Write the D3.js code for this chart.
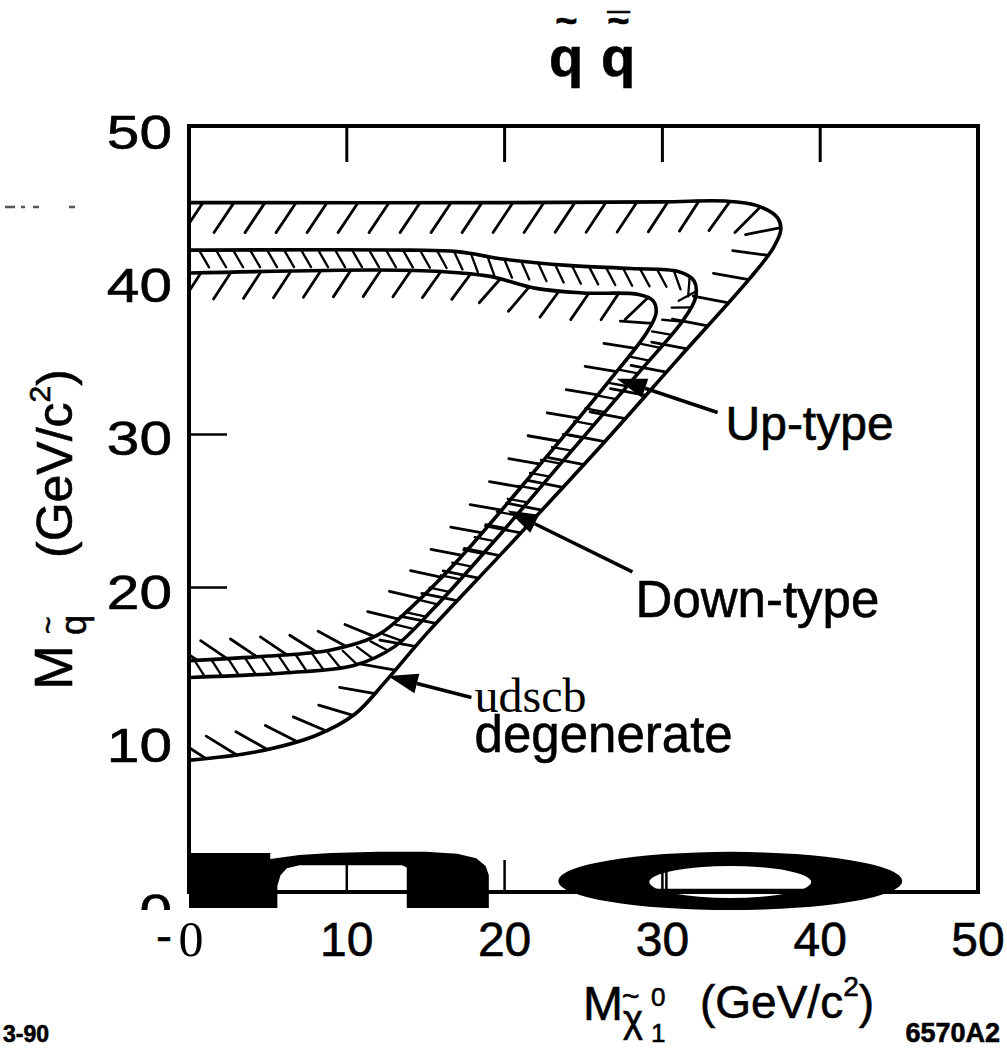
<!DOCTYPE html>
<html>
<head>
<meta charset="utf-8">
<script src="https://cdn.jsdelivr.net/npm/d3@7"></script>
<style>
  body { margin: 0; background: #fff; }
  svg { display: block; }
  text { font-family: "Liberation Sans", Arial, Helvetica, sans-serif; fill: #000; stroke: #000; stroke-width: 0.6; }
</style>
</head>
<body>
<svg id="chart" width="1007" height="1054"></svg>
<script>
// axis ticks
const xTopTicks = [10, 20, 30, 40];
const xBottomTicks = [10, 20, 30, 40];
const xTickLabels = [10, 20, 30, 40, 50];
const yTicks = [20, 30];
const yTickLabels = [50, 40, 30, 20, 10, 0];

// exclusion contours, [M_chi, M_squark] in GeV/c^2, traced from top-left round to bottom-left
const udscbCurve = [[0, 45.0], [20, 45.0], [30, 45.05], [34, 45.1], [36, 44.8], [37.3, 44.0], [37.5, 43.2],
  [37.0, 42.0], [35.5, 40.0], [31, 34.8], [26, 29.0], [20, 22.3], [15, 16.8], [12.5, 13.8],
  [10.5, 11.6], [8, 10.2], [4, 9.1], [0, 8.6]];
const middleCurve = [[0, 41.9], [14, 41.9], [17, 41.8], [20, 41.3], [24, 40.9], [28, 40.7], [31, 40.5],
  [32, 39.9], [32.1, 38.8], [31.3, 37.3], [28.5, 33.9], [24, 28.5], [19, 22.5], [15.5, 18.5],
  [13, 16.0], [10.5, 14.8], [6, 14.3], [0, 14.0]];
const innerCurve = [[0, 40.4], [12, 40.6], [16, 40.5], [19, 40.2], [22, 39.4], [25, 39.1], [28.5, 39.0],
  [29.4, 38.6], [29.6, 37.8], [29.0, 36.5], [26.5, 33.2], [22, 27.6], [17, 21.6], [14, 18.5],
  [12, 16.8], [9, 15.8], [5, 15.4], [0, 15.1]];

// annotations: label lines, text anchor point, arrow start, arrow tip
const notes = [
  { lines: ["Up-type"], size: 48, at: [34.0, 29.5], from: [33.5, 31.3], to: [27.1, 33.5] },
  { lines: ["Down-type"], size: 51, at: [28.3, 17.95], from: [28.1, 20.9], to: [20.2, 24.9] },
  { lines: ["udscb", "degenerate"], size: 51, at: [18.1, 11.75], from: [17.9, 12.7], to: [12.6, 14.1] }
];

// the black blobs sitting on the x axis
const blockShape = [[0, -1.05], [0, 2.55], [5.15, 2.55], [5.15, 2.15], [7, 2.42], [9, 2.55], [12, 2.62],
  [15, 2.62], [17, 2.5], [18.2, 2.2], [18.8, 1.7], [19.0, 1.1], [19.0, -1.05], [13.8, -1.05],
  [13.8, 1.6], [13.5, 1.75], [7, 1.75], [6.2, 1.55], [5.8, 1.1], [5.6, 0.4], [5.6, -1.05]];
const ringOuter = { cx: 34.3, cy: 0.72, rx: 10.9, ry: 1.9 };
const ringInner = { cx: 34.3, cy: 0.65, rx: 5.13, ry: 1.04 };

const svg = d3.select("#chart");
const x = d3.scaleLinear().domain([0, 50]).range([189, 978]);
const y = d3.scaleLinear().domain([0, 50]).range([892, 126]);

const defs = svg.append("defs");
defs.append("clipPath").attr("id", "plotClip")
  .append("rect").attr("x", x(0) + 1).attr("y", y(50)).attr("width", x(50) - x(0)).attr("height", y(0) - y(50));
defs.append("clipPath").attr("id", "zeroClip")
  .append("rect").attr("x", 100).attr("y", 880).attr("width", 80).attr("height", 30);

// ticks
svg.append("g").selectAll("line").data(xTopTicks).join("line")
  .attr("x1", d => x(d)).attr("x2", d => x(d)).attr("y1", y(50)).attr("y2", y(50) + 36)
  .attr("stroke", "#000").attr("stroke-width", 3);
svg.append("g").selectAll("line").data(xBottomTicks).join("line")
  .attr("x1", d => x(d)).attr("x2", d => x(d)).attr("y1", y(0)).attr("y2", y(0) - 32)
  .attr("stroke", "#000").attr("stroke-width", 2.5);
svg.append("g").selectAll("line").data(yTicks).join("line")
  .attr("x1", x(0)).attr("x2", x(0) + 38).attr("y1", d => y(d) + 2).attr("y2", d => y(d) + 2)
  .attr("stroke", "#000").attr("stroke-width", 2.5);

// frame
svg.append("rect").attr("x", x(0)).attr("y", y(50)).attr("width", x(50) - x(0)).attr("height", y(0) - y(50))
  .attr("fill", "none").attr("stroke", "#000").attr("stroke-width", 4);

// black shapes on the axis
const line = d3.line().x(d => x(d[0])).y(d => y(d[1]));
svg.append("path").datum(blockShape).attr("d", d => line(d) + "Z").attr("fill", "#000");
const ellipse = e => {
  const cx = x(e.cx), cy = y(e.cy), rx = x(e.rx) - x(0), ry = y(0) - y(e.ry);
  return `M${cx - rx},${cy}A${rx},${ry} 0 1 0 ${cx + rx},${cy}A${rx},${ry} 0 1 0 ${cx - rx},${cy}Z`;
};
svg.append("path").attr("d", ellipse(ringOuter) + ellipse(ringInner))
  .attr("fill", "#000").attr("fill-rule", "evenodd");
// axis line and 30 tick show through the hole
svg.append("line").attr("x1", x(ringInner.cx - ringInner.rx)).attr("x2", x(ringInner.cx + ringInner.rx))
  .attr("y1", y(0) - 2).attr("y2", y(0) - 2).attr("stroke", "#000").attr("stroke-width", 2.5);
svg.append("line").attr("x1", x(30) + 4).attr("x2", x(30) + 4).attr("y1", y(0)).attr("y2", y(0) - 26)
  .attr("stroke", "#000").attr("stroke-width", 2.5);

// contours with hatching
const curve = d3.line().x(d => x(d[0])).y(d => y(d[1])).curve(d3.curveCatmullRom.alpha(0.5));
const plot = svg.append("g").attr("clip-path", "url(#plotClip)");

const leanLeft = (nx, ny) => { const vx = nx - 0.9, vy = ny + 0.35, l = Math.hypot(vx, vy); return [vx / l, vy / l]; };
const turnBack = (nx, ny) => { const a = Math.atan2(ny, nx) - Math.PI / 6; return [Math.cos(a), Math.sin(a)]; };

function drawContour(pts, spacing, len, dirFn, start, hatchWidth) {
  const p = plot.append("path").datum(pts).attr("d", curve)
    .attr("fill", "none").attr("stroke", "#000").attr("stroke-width", 3.6).attr("stroke-linejoin", "round");
  const node = p.node(), L = node.getTotalLength();
  const segs = [];
  for (let s = start; s < L - 4; s += spacing) {
    const a = node.getPointAtLength(Math.max(0, s - 2)), b = node.getPointAtLength(Math.min(L, s + 2));
    const q = node.getPointAtLength(s);
    let tx = b.x - a.x, ty = b.y - a.y;
    const tl = Math.hypot(tx, ty) || 1;
    tx /= tl; ty /= tl;
    const [hx, hy] = dirFn(-ty, tx);
    segs.push([q.x, q.y, q.x + hx * len, q.y + hy * len]);
  }
  plot.append("g").selectAll("line").data(segs).join("line")
    .attr("x1", d => d[0]).attr("y1", d => d[1]).attr("x2", d => d[2]).attr("y2", d => d[3])
    .attr("stroke", "#000").attr("stroke-width", hatchWidth).attr("stroke-linecap", "round");
}

drawContour(udscbCurve, 31, 36, leanLeft, 14, 2.8);
drawContour(middleCurve, 17, 20, turnBack, 10, 2.3);
drawContour(innerCurve, 30, 32, leanLeft, 12, 2.8);

// annotations
notes.forEach(n => {
  const x0 = x(n.from[0]), y0 = y(n.from[1]), x1 = x(n.to[0]), y1 = y(n.to[1]);
  const ang = Math.atan2(y1 - y0, x1 - x0), hl = 30, hw = 10;
  const bx = x1 - hl * Math.cos(ang), by = y1 - hl * Math.sin(ang);
  svg.append("line").attr("x1", x0).attr("y1", y0).attr("x2", bx).attr("y2", by)
    .attr("stroke", "#000").attr("stroke-width", 3.5);
  svg.append("path")
    .attr("d", `M${x1},${y1}L${bx - hw * Math.sin(ang)},${by + hw * Math.cos(ang)}L${bx + hw * Math.sin(ang)},${by - hw * Math.cos(ang)}Z`)
    .attr("fill", "#000");
  n.lines.forEach((t, i) => {
    const serif = t === "udscb";
    svg.append("text").attr("x", x(n.at[0])).attr("y", y(n.at[1]) + i * 40)
      .attr("font-size", serif ? 48 : n.size)
      .style("font-family", serif ? "'Liberation Serif', 'Times New Roman', serif" : null)
      .style("stroke-width", serif ? 0 : null)
      .text(t);
  });
});

// tick labels (the scanned digits on the y axis are wide)
const yLab = svg.append("g");
yLab.selectAll("text").data(yTickLabels.filter(d => d !== 0)).join("text")
  .attr("transform", d => `translate(172,${y(d) + 23}) scale(1.22,1)`)
  .attr("text-anchor", "end").attr("font-size", 48)
  .text(d => d);
// the 0 label is half hidden in the scan
svg.append("g").attr("clip-path", "url(#zeroClip)").selectAll("text")
  .data(yTickLabels.filter(d => d === 0)).join("text")
  .attr("transform", d => `translate(172,${y(d) + 36}) scale(1.22,1)`)
  .attr("text-anchor", "end").attr("font-size", 48)
  .text(d => d);
svg.append("g").selectAll("text").data(xTickLabels).join("text")
  .attr("x", d => x(d)).attr("y", 956).attr("text-anchor", "middle").attr("font-size", 48)
  .text(d => d);
svg.append("text").attr("x", 172).attr("y", 952).attr("text-anchor", "end").attr("font-size", 48).text("-");
svg.append("text").attr("x", x(0) + 2).attr("y", 956).attr("text-anchor", "middle").attr("font-size", 50)
  .style("font-family", "'Liberation Serif', 'Times New Roman', serif").style("stroke-width", 0).text("0");

// title: squark and anti-squark, marks set as tspans over the q
const t1 = svg.append("text").attr("x", 549).attr("y", 76).attr("font-size", 56).attr("font-weight", "bold");
t1.append("tspan").text("q");
t1.append("tspan").attr("dx", -28).attr("dy", -42).attr("font-size", 38).text("~");
const t2 = svg.append("text").attr("x", 601).attr("y", 76).attr("font-size", 56).attr("font-weight", "bold");
t2.append("tspan").text("q");
t2.append("tspan").attr("dx", -28).attr("dy", -42).attr("font-size", 38).text("~");
t2.append("tspan").attr("dx", -22).attr("dy", 8).attr("font-size", 40).text("\u00AF");

// y axis title
const yt = svg.append("g").attr("transform", "translate(72,690) rotate(-90)");
const ytText = yt.append("text").attr("x", 0).attr("y", 0).attr("font-size", 54);
ytText.append("tspan").text("M");
ytText.append("tspan").attr("dx", 10).attr("dy", 14).attr("font-size", 36).text("q");
ytText.append("tspan").attr("dx", -19).attr("dy", -28).attr("font-size", 30).text("~");
ytText.append("tspan").attr("x", 132).attr("dy", 14).attr("font-size", 50).text("(GeV/c");
ytText.append("tspan").attr("font-size", 30).attr("dy", -22).text("2");
ytText.append("tspan").attr("font-size", 50).attr("dy", 22).text(")");

// x axis title
const xt = svg.append("text").attr("x", 583).attr("y", 1020).attr("font-size", 48);
xt.append("tspan").text("M");
xt.append("tspan").attr("dy", 12).attr("font-size", 38).text("\u03C7");
xt.append("tspan").attr("dx", -21).attr("dy", -26).attr("font-size", 30).text("~");
xt.append("tspan").attr("x", 651).attr("dy", 0).attr("font-size", 26).text("0");
xt.append("tspan").attr("x", 651).attr("dy", 36).attr("font-size", 26).text("1");
xt.append("tspan").attr("x", 700).attr("dy", -24).attr("font-size", 46).text("(GeV/c");
xt.append("tspan").attr("font-size", 28).attr("dy", -22).text("2");
xt.append("tspan").attr("font-size", 46).attr("dy", 22).text(")");

// figure codes
svg.append("text").attr("x", 3).attr("y", 1042).attr("font-size", 23).attr("font-weight", "bold").text("3-90");
svg.append("text").attr("x", 1000).attr("y", 1042).attr("text-anchor", "end").attr("font-size", 27)
  .attr("font-weight", "bold").text("6570A2");

// scan specks at left
svg.append("line").attr("x1", 5).attr("x2", 75).attr("y1", 207).attr("y2", 207)
  .attr("stroke", "#555").attr("stroke-width", 2.5).attr("stroke-dasharray", "10,6,4,8,6,30");
</script>
</body>
</html>
